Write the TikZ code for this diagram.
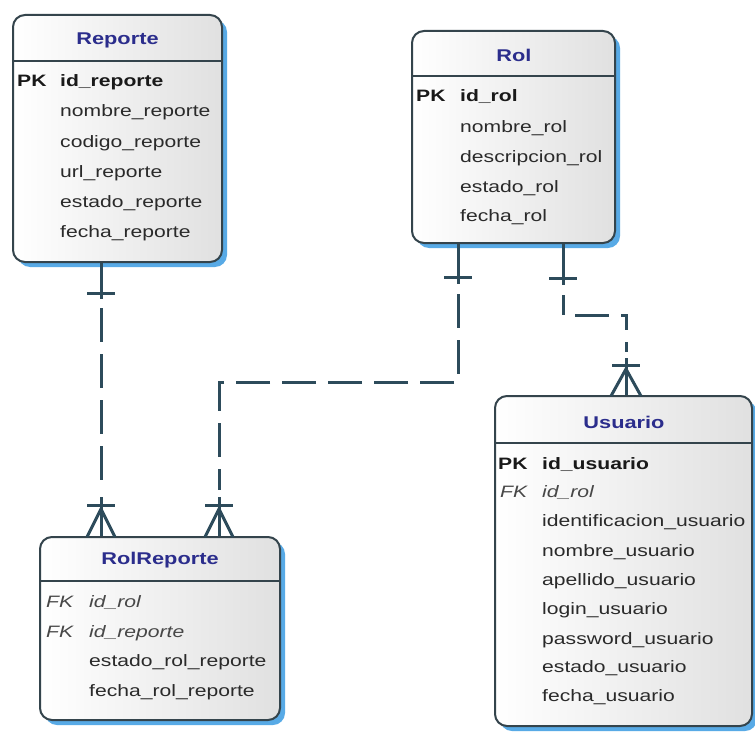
\documentclass[tikz,border=0pt]{standalone}
\usepackage{fontspec}
\setmainfont[FakeStretch=1.28]{Liberation Sans}
\definecolor{colborde}{HTML}{34444C}
\definecolor{coltitulo}{HTML}{2B2D8C}
\definecolor{coltexto}{HTML}{2A2A2A}
\definecolor{colrel}{HTML}{2D4B5B}
\definecolor{colsombra}{HTML}{2F95E0}

\begin{document}
\begin{tikzpicture}[x=1pt,y=-1pt,
	tabla/.style={draw=colborde,line width=2pt,rounded corners=12pt,left color=white,right color=black!12,inner sep=0pt},
	sombra/.style={fill=colsombra,rounded corners=12pt,opacity=0.8},
	divisor/.style={draw=colborde,line width=2pt},
	nombre/.style={inner sep=0pt,font=\fontsize{17pt}{20pt}\selectfont\bfseries,text=coltitulo},
	campo/.style={anchor=west,inner sep=0pt,text height=12pt,text depth=4pt,font=\fontsize{16.5pt}{20pt}\selectfont,text=coltexto},
	pk/.style={campo,font=\fontsize{16.5pt}{20pt}\selectfont\bfseries,text=black!90},
	fk/.style={campo,font=\fontsize{16.5pt}{20pt}\selectfont\itshape,text=black!72},
	rel/.style={draw=colrel,line width=3pt},
	discont/.style={rel,dash pattern=on 34pt off 12pt}]
	\useasboundingbox (0,0) rectangle (755,733);
	\fill[white] (0,0) rectangle (755,733);

	\fill[sombra] (18,20) rectangle (227,267);
	\fill[sombra] (417,36) rectangle (620,248);
	\fill[sombra] (45,542) rectangle (285,725);
	\fill[sombra] (500,401) rectangle (757,731);

	\node[tabla,minimum width=209pt,minimum height=247pt] (reporte) at (117.5,138.5) {};
	\node[tabla,minimum width=203pt,minimum height=212pt] (rol) at (513.5,137) {};
	\node[tabla,minimum width=240pt,minimum height=183pt] (rolrep) at (160,628.5) {};
	\node[tabla,minimum width=257pt,minimum height=330pt] (usuario) at (623.5,561) {};

	\node[nombre] (reporte-nom) at (117.5,40) {Reporte};
	\draw[divisor] (reporte.west |- 0,61) -- (reporte.east |- 0,61);
	\node[pk] (reporte-pk) at (17,83) {PK};
	\node[pk] (reporte-c1) at (60,83) {id\_reporte};
	\node[campo] (reporte-c2) at (60,113) {nombre\_reporte};
	\node[campo] (reporte-c3) at (60,143) {codigo\_reporte};
	\node[campo] (reporte-c4) at (60,173) {url\_reporte};
	\node[campo] (reporte-c5) at (60,203) {estado\_reporte};
	\node[campo] (reporte-c6) at (60,233) {fecha\_reporte};

	\node[nombre] (rol-nom) at (514,55) {Rol};
	\draw[divisor] (rol.west |- 0,76) -- (rol.east |- 0,76);
	\node[pk] (rol-pk) at (416,98) {PK};
	\node[pk] (rol-c1) at (460,98) {id\_rol};
	\node[campo] (rol-c2) at (460,128) {nombre\_rol};
	\node[campo] (rol-c3) at (460,158) {descripcion\_rol};
	\node[campo] (rol-c4) at (460,188) {estado\_rol};
	\node[campo] (rol-c5) at (460,217) {fecha\_rol};

	\node[nombre] (rolrep-nom) at (160,560) {RolReporte};
	\draw[divisor] (rolrep.west |- 0,581) -- (rolrep.east |- 0,581);
	\node[fk] (rolrep-fk1) at (46,603) {FK};
	\node[fk] (rolrep-c1) at (89,603) {id\_rol};
	\node[fk] (rolrep-fk2) at (46,633) {FK};
	\node[fk] (rolrep-c2) at (89,633) {id\_reporte};
	\node[campo] (rolrep-c3) at (89,662) {estado\_rol\_reporte};
	\node[campo] (rolrep-c4) at (89,692) {fecha\_rol\_reporte};

	\node[nombre] (usuario-nom) at (624,422) {Usuario};
	\draw[divisor] (usuario.west |- 0,443) -- (usuario.east |- 0,443);
	\node[pk] (usuario-pk) at (498,465) {PK};
	\node[pk] (usuario-c1) at (542,465) {id\_usuario};
	\node[fk] (usuario-fk) at (500,493) {FK};
	\node[fk] (usuario-c2) at (542,493) {id\_rol};
	\node[campo] (usuario-c3) at (542,522) {identificacion\_usuario};
	\node[campo] (usuario-c4) at (542,552) {nombre\_usuario};
	\node[campo] (usuario-c5) at (542,581) {apellido\_usuario};
	\node[campo] (usuario-c6) at (542,610) {login\_usuario};
	\node[campo] (usuario-c7) at (542,640) {password\_usuario};
	\node[campo] (usuario-c8) at (542,668) {estado\_usuario};
	\node[campo] (usuario-c9) at (542,697) {fecha\_usuario};

	\coordinate (r1-ini) at (reporte.south -| 101,0);
	\coordinate (r1-a) at (101,299);
	\coordinate (r1-b) at (101,308);
	\coordinate (r1-c) at (101,490);
	\coordinate (r1-d) at (101,497);
	\coordinate (r1-fin) at (rolrep.north -| 101,0);
	\draw[rel] (r1-ini) -- (r1-a);
	\draw[rel] (87,293) -- (115,293);
	\draw[discont] (r1-b) -- (r1-c);
	\draw[rel] (r1-d) -- (r1-fin);
	\draw[rel] (87,505) -- (115,505);
	\draw[rel] (87,537) -- (101,509) -- (115,537);

	\coordinate (r2-ini) at (rol.south -| 458,0);
	\coordinate (r2-a) at (458,284);
	\coordinate (r2-b) at (458,294);
	\coordinate (r2-c) at (458,382);
	\coordinate (r2-d) at (219,382);
	\coordinate (r2-e) at (219,490);
	\coordinate (r2-f) at (219,497);
	\coordinate (r2-fin) at (rolrep.north -| 219,0);
	\draw[rel] (r2-ini) -- (r2-a);
	\draw[rel] (444,277) -- (472,277);
	\draw[discont] (r2-b) -- (r2-c) -- (r2-d) -- (r2-e);
	\draw[rel] (r2-f) -- (r2-fin);
	\draw[rel] (205,505) -- (233,505);
	\draw[rel] (205,537) -- (219,509) -- (233,537);

	\coordinate (r3-ini) at (rol.south -| 563,0);
	\coordinate (r3-a) at (563,285);
	\coordinate (r3-b) at (563,295);
	\coordinate (r3-c) at (563,315);
	\coordinate (r3-d) at (626,315);
	\coordinate (r3-e) at (626,352);
	\coordinate (r3-f) at (626,358);
	\coordinate (r3-fin) at (usuario.north -| 626,0);
	\draw[rel] (r3-ini) -- (r3-a);
	\draw[rel] (549,278) -- (577,278);
	\draw[rel,dash pattern=on 20pt off 12pt on 34pt off 12pt] (r3-b) -- (r3-c) -- (r3-d) -- (r3-e);
	\draw[rel] (r3-f) -- (r3-fin);
	\draw[rel] (612,365) -- (640,365);
	\draw[rel] (611,396) -- (626,369) -- (641,396);
\end{tikzpicture}
\end{document}
